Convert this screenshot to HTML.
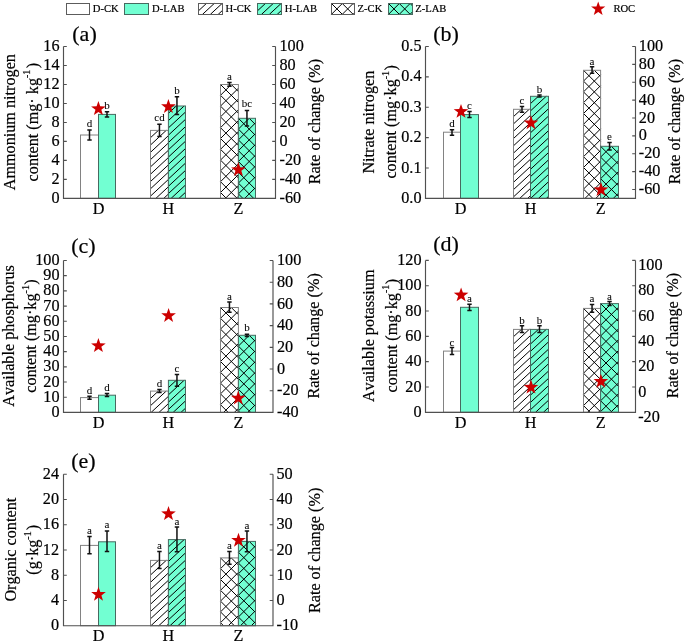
<!DOCTYPE html>
<html><head><meta charset="utf-8"><style>
html,body{margin:0;padding:0;background:#fff;}
svg{display:block;will-change:transform;}
text{font-family:"Liberation Serif", serif;fill:#000;font-kerning:none;stroke:#000;stroke-width:0.2px;}
</style></head><body>
<svg width="685" height="644" viewBox="0 0 685 644">
<rect width="685" height="644" fill="#fff"/>
<defs></defs>
<rect x="80.50" y="135.00" width="18.00" height="63.40" fill="#ffffff"/>
<rect x="80.50" y="135.00" width="18.00" height="63.40" fill="none" stroke="#828282" stroke-width="1"/>
<rect x="98.50" y="114.40" width="17.00" height="84.00" fill="#72FFD2"/>
<rect x="98.50" y="114.40" width="17.00" height="84.00" fill="none" stroke="#476a60" stroke-width="1"/>
<rect x="150.50" y="130.40" width="17.90" height="68.00" fill="#ffffff"/>
<path d="M150.50,137.70L158.35,130.40M150.50,145.00L166.20,130.40M150.50,152.30L168.40,135.65M150.50,159.60L168.40,142.95M150.50,166.90L168.40,150.25M150.50,174.20L168.40,157.55M150.50,181.50L168.40,164.85M150.50,188.80L168.40,172.15M150.50,196.10L168.40,179.45M155.88,198.40L168.40,186.75M163.73,198.40L168.40,194.05" stroke="#000000" stroke-width="1.0" fill="none"/>
<rect x="150.50" y="130.40" width="17.90" height="68.00" fill="none" stroke="#828282" stroke-width="1"/>
<rect x="168.40" y="106.00" width="17.10" height="92.40" fill="#72FFD2"/>
<path d="M168.40,113.30L176.25,106.00M168.40,120.60L184.10,106.00M168.40,127.90L185.50,112.00M168.40,135.20L185.50,119.30M168.40,142.50L185.50,126.60M168.40,149.80L185.50,133.90M168.40,157.10L185.50,141.20M168.40,164.40L185.50,148.50M168.40,171.70L185.50,155.80M168.40,179.00L185.50,163.10M168.40,186.30L185.50,170.40M168.40,193.60L185.50,177.70M171.09,198.40L185.50,185.00M178.94,198.40L185.50,192.30" stroke="#000000" stroke-width="1.0" fill="none"/>
<rect x="168.40" y="106.00" width="17.10" height="92.40" fill="none" stroke="#476a60" stroke-width="1"/>
<rect x="220.50" y="84.50" width="17.90" height="113.90" fill="#ffffff"/>
<path d="M231.30,84.50L238.40,91.60M220.50,84.50L238.40,102.40M220.50,95.30L238.40,113.20M220.50,106.10L238.40,124.00M220.50,116.90L238.40,134.80M220.50,127.70L238.40,145.60M220.50,138.50L238.40,156.40M220.50,149.30L238.40,167.20M220.50,160.10L238.40,178.00M220.50,170.90L238.40,188.80M220.50,181.70L237.20,198.40M220.50,192.50L226.40,198.40M220.50,95.30L231.30,84.50M220.50,106.10L238.40,88.20M220.50,116.90L238.40,99.00M220.50,127.70L238.40,109.80M220.50,138.50L238.40,120.60M220.50,149.30L238.40,131.40M220.50,160.10L238.40,142.20M220.50,170.90L238.40,153.00M220.50,181.70L238.40,163.80M220.50,192.50L238.40,174.60M225.40,198.40L238.40,185.40M236.20,198.40L238.40,196.20" stroke="#000000" stroke-width="1.0" fill="none"/>
<rect x="220.50" y="84.50" width="17.90" height="113.90" fill="none" stroke="#828282" stroke-width="1"/>
<rect x="238.40" y="118.30" width="17.10" height="80.10" fill="#72FFD2"/>
<path d="M249.20,118.30L255.50,124.60M238.40,118.30L255.50,135.40M238.40,129.10L255.50,146.20M238.40,139.90L255.50,157.00M238.40,150.70L255.50,167.80M238.40,161.50L255.50,178.60M238.40,172.30L255.50,189.40M238.40,183.10L253.70,198.40M238.40,193.90L242.90,198.40M238.40,129.10L249.20,118.30M238.40,139.90L255.50,122.80M238.40,150.70L255.50,133.60M238.40,161.50L255.50,144.40M238.40,172.30L255.50,155.20M238.40,183.10L255.50,166.00M238.40,193.90L255.50,176.80M244.70,198.40L255.50,187.60" stroke="#000000" stroke-width="1.0" fill="none"/>
<rect x="238.40" y="118.30" width="17.10" height="80.10" fill="none" stroke="#476a60" stroke-width="1"/>
<path d="M89.50,129.90 V140.00 M87.30,129.90 H91.70 M87.30,140.00 H91.70" stroke="#111" stroke-width="1.5" fill="none"/>
<text x="89.50" y="126.80" font-size="11" text-anchor="middle" style="stroke-width:0.05px">d</text>
<path d="M107.00,111.70 V117.10 M104.80,111.70 H109.20 M104.80,117.10 H109.20" stroke="#111" stroke-width="1.5" fill="none"/>
<text x="107.00" y="109.40" font-size="11" text-anchor="middle" style="stroke-width:0.05px">b</text>
<path d="M159.45,124.20 V136.60 M157.25,124.20 H161.65 M157.25,136.60 H161.65" stroke="#111" stroke-width="1.5" fill="none"/>
<text x="159.45" y="121.10" font-size="11" text-anchor="middle" style="stroke-width:0.05px">cd</text>
<path d="M176.95,96.80 V114.50 M174.75,96.80 H179.15 M174.75,114.50 H179.15" stroke="#111" stroke-width="1.5" fill="none"/>
<text x="176.95" y="94.30" font-size="11" text-anchor="middle" style="stroke-width:0.05px">b</text>
<path d="M229.45,82.40 V86.30 M227.25,82.40 H231.65 M227.25,86.30 H231.65" stroke="#111" stroke-width="1.5" fill="none"/>
<text x="229.45" y="80.40" font-size="11" text-anchor="middle" style="stroke-width:0.05px">a</text>
<path d="M246.95,110.40 V125.90 M244.75,110.40 H249.15 M244.75,125.90 H249.15" stroke="#111" stroke-width="1.5" fill="none"/>
<text x="246.95" y="106.90" font-size="11" text-anchor="middle" style="stroke-width:0.05px">bc</text>
<text x="59.50" y="203.00" font-size="16.2" text-anchor="end" >0</text>
<text x="59.50" y="184.01" font-size="16.2" text-anchor="end" >2</text>
<text x="59.50" y="165.03" font-size="16.2" text-anchor="end" >4</text>
<text x="59.50" y="146.04" font-size="16.2" text-anchor="end" >6</text>
<text x="59.50" y="127.05" font-size="16.2" text-anchor="end" >8</text>
<text x="59.50" y="108.06" font-size="16.2" text-anchor="end" >10</text>
<text x="59.50" y="89.07" font-size="16.2" text-anchor="end" >12</text>
<text x="59.50" y="70.09" font-size="16.2" text-anchor="end" >14</text>
<text x="59.50" y="51.10" font-size="16.2" text-anchor="end" >16</text>
<text x="279.50" y="203.00" font-size="16.2" text-anchor="start" >-60</text>
<text x="279.50" y="184.01" font-size="16.2" text-anchor="start" >-40</text>
<text x="279.50" y="165.03" font-size="16.2" text-anchor="start" >-20</text>
<text x="279.50" y="146.04" font-size="16.2" text-anchor="start" >0</text>
<text x="279.50" y="127.05" font-size="16.2" text-anchor="start" >20</text>
<text x="279.50" y="108.06" font-size="16.2" text-anchor="start" >40</text>
<text x="279.50" y="89.07" font-size="16.2" text-anchor="start" >60</text>
<text x="279.50" y="70.09" font-size="16.2" text-anchor="start" >80</text>
<text x="279.50" y="51.10" font-size="16.2" text-anchor="start" >100</text>
<path d="M63.5,46.5 V198.4 H275.5 V46.5 M63.5,198.40 h3.3 M63.5,179.41 h3.3 M63.5,160.43 h3.3 M63.5,141.44 h3.3 M63.5,122.45 h3.3 M63.5,103.46 h3.3 M63.5,84.47 h3.3 M63.5,65.49 h3.3 M63.5,46.50 h3.3 M275.5,198.40 h-3.3 M275.5,179.41 h-3.3 M275.5,160.43 h-3.3 M275.5,141.44 h-3.3 M275.5,122.45 h-3.3 M275.5,103.46 h-3.3 M275.5,84.47 h-3.3 M275.5,65.49 h-3.3 M275.5,46.50 h-3.3" stroke="#505050" stroke-width="1.15" fill="none"/>
<path d="M98.40,101.10 L100.21,106.31 L105.72,106.42 L101.33,109.75 L102.93,115.03 L98.40,111.88 L93.87,115.03 L95.47,109.75 L91.08,106.42 L96.59,106.31Z" fill="#CC0000"/>
<path d="M168.40,99.00 L170.21,104.21 L175.72,104.32 L171.33,107.65 L172.93,112.93 L168.40,109.78 L163.87,112.93 L165.47,107.65 L161.08,104.32 L166.59,104.21Z" fill="#CC0000"/>
<path d="M238.40,162.10 L240.21,167.31 L245.72,167.42 L241.33,170.75 L242.93,176.03 L238.40,172.88 L233.87,176.03 L235.47,170.75 L231.08,167.42 L236.59,167.31Z" fill="#CC0000"/>
<text x="98.50" y="214.30" font-size="16.2" text-anchor="middle" >D</text>
<text x="168.40" y="214.30" font-size="16.2" text-anchor="middle" >H</text>
<text x="238.40" y="214.30" font-size="16.2" text-anchor="middle" >Z</text>
<text x="72.30" y="40.80" font-size="22" text-anchor="start" >(a)</text>
<text transform="translate(14.90,190.30) rotate(-90)" font-size="16.2">Ammonium nitrogen</text>
<text transform="translate(37.90,181.40) rotate(-90)" font-size="16.2">content (mg· kg<tspan dy="-7.5" font-size="10">-1</tspan><tspan dy="7.5" dx="1.4">)</tspan></text>
<text transform="translate(320.00,184.20) rotate(-90)" font-size="16.2">Rate of change (%)</text>
<rect x="443.50" y="132.20" width="17.00" height="66.20" fill="#ffffff"/>
<rect x="443.50" y="132.20" width="17.00" height="66.20" fill="none" stroke="#828282" stroke-width="1"/>
<rect x="460.50" y="114.60" width="18.00" height="83.80" fill="#72FFD2"/>
<rect x="460.50" y="114.60" width="18.00" height="83.80" fill="none" stroke="#476a60" stroke-width="1"/>
<rect x="513.50" y="109.30" width="17.00" height="89.10" fill="#ffffff"/>
<path d="M513.50,116.60L521.35,109.30M513.50,123.90L529.20,109.30M513.50,131.20L530.50,115.39M513.50,138.50L530.50,122.69M513.50,145.80L530.50,129.99M513.50,153.10L530.50,137.29M513.50,160.40L530.50,144.59M513.50,167.70L530.50,151.89M513.50,175.00L530.50,159.19M513.50,182.30L530.50,166.49M513.50,189.60L530.50,173.79M513.50,196.90L530.50,181.09M519.74,198.40L530.50,188.39M527.59,198.40L530.50,195.69" stroke="#000000" stroke-width="1.0" fill="none"/>
<rect x="513.50" y="109.30" width="17.00" height="89.10" fill="none" stroke="#828282" stroke-width="1"/>
<rect x="530.50" y="96.30" width="18.00" height="102.10" fill="#72FFD2"/>
<path d="M530.50,103.60L538.35,96.30M530.50,110.90L546.20,96.30M530.50,118.20L548.50,101.46M530.50,125.50L548.50,108.76M530.50,132.80L548.50,116.06M530.50,140.10L548.50,123.36M530.50,147.40L548.50,130.66M530.50,154.70L548.50,137.96M530.50,162.00L548.50,145.26M530.50,169.30L548.50,152.56M530.50,176.60L548.50,159.86M530.50,183.90L548.50,167.16M530.50,191.20L548.50,174.46M530.61,198.40L548.50,181.76M538.46,198.40L548.50,189.06M546.31,198.40L548.50,196.36" stroke="#000000" stroke-width="1.0" fill="none"/>
<rect x="530.50" y="96.30" width="18.00" height="102.10" fill="none" stroke="#476a60" stroke-width="1"/>
<rect x="583.50" y="70.30" width="17.10" height="128.10" fill="#ffffff"/>
<path d="M594.30,70.30L600.60,76.60M583.50,70.30L600.60,87.40M583.50,81.10L600.60,98.20M583.50,91.90L600.60,109.00M583.50,102.70L600.60,119.80M583.50,113.50L600.60,130.60M583.50,124.30L600.60,141.40M583.50,135.10L600.60,152.20M583.50,145.90L600.60,163.00M583.50,156.70L600.60,173.80M583.50,167.50L600.60,184.60M583.50,178.30L600.60,195.40M583.50,189.10L592.80,198.40M583.50,81.10L594.30,70.30M583.50,91.90L600.60,74.80M583.50,102.70L600.60,85.60M583.50,113.50L600.60,96.40M583.50,124.30L600.60,107.20M583.50,135.10L600.60,118.00M583.50,145.90L600.60,128.80M583.50,156.70L600.60,139.60M583.50,167.50L600.60,150.40M583.50,178.30L600.60,161.20M583.50,189.10L600.60,172.00M585.00,198.40L600.60,182.80M595.80,198.40L600.60,193.60" stroke="#000000" stroke-width="1.0" fill="none"/>
<rect x="583.50" y="70.30" width="17.10" height="128.10" fill="none" stroke="#828282" stroke-width="1"/>
<rect x="600.60" y="146.30" width="17.90" height="52.10" fill="#72FFD2"/>
<path d="M611.40,146.30L618.50,153.40M600.60,146.30L618.50,164.20M600.60,157.10L618.50,175.00M600.60,167.90L618.50,185.80M600.60,178.70L618.50,196.60M600.60,189.50L609.50,198.40M600.60,157.10L611.40,146.30M600.60,167.90L618.50,150.00M600.60,178.70L618.50,160.80M600.60,189.50L618.50,171.60M602.50,198.40L618.50,182.40M613.30,198.40L618.50,193.20" stroke="#000000" stroke-width="1.0" fill="none"/>
<rect x="600.60" y="146.30" width="17.90" height="52.10" fill="none" stroke="#476a60" stroke-width="1"/>
<path d="M452.00,129.70 V135.30 M449.80,129.70 H454.20 M449.80,135.30 H454.20" stroke="#111" stroke-width="1.5" fill="none"/>
<text x="452.00" y="126.80" font-size="11" text-anchor="middle" style="stroke-width:0.05px">d</text>
<path d="M469.50,111.50 V117.50 M467.30,111.50 H471.70 M467.30,117.50 H471.70" stroke="#111" stroke-width="1.5" fill="none"/>
<text x="469.50" y="108.60" font-size="11" text-anchor="middle" style="stroke-width:0.05px">c</text>
<path d="M522.00,106.40 V112.20 M519.80,106.40 H524.20 M519.80,112.20 H524.20" stroke="#111" stroke-width="1.5" fill="none"/>
<text x="522.00" y="103.70" font-size="11" text-anchor="middle" style="stroke-width:0.05px">c</text>
<path d="M539.50,95.10 V97.10 M537.30,95.10 H541.70 M537.30,97.10 H541.70" stroke="#111" stroke-width="1.5" fill="none"/>
<text x="539.50" y="92.70" font-size="11" text-anchor="middle" style="stroke-width:0.05px">b</text>
<path d="M592.05,66.70 V73.30 M589.85,66.70 H594.25 M589.85,73.30 H594.25" stroke="#111" stroke-width="1.5" fill="none"/>
<text x="592.05" y="64.50" font-size="11" text-anchor="middle" style="stroke-width:0.05px">a</text>
<path d="M609.55,142.50 V150.10 M607.35,142.50 H611.75 M607.35,150.10 H611.75" stroke="#111" stroke-width="1.5" fill="none"/>
<text x="609.55" y="140.30" font-size="11" text-anchor="middle" style="stroke-width:0.05px">e</text>
<text x="421.50" y="203.00" font-size="16.2" text-anchor="end" >0.0</text>
<text x="421.50" y="172.62" font-size="16.2" text-anchor="end" >0.1</text>
<text x="421.50" y="142.24" font-size="16.2" text-anchor="end" >0.2</text>
<text x="421.50" y="111.86" font-size="16.2" text-anchor="end" >0.3</text>
<text x="421.50" y="81.48" font-size="16.2" text-anchor="end" >0.4</text>
<text x="421.50" y="51.10" font-size="16.2" text-anchor="end" >0.5</text>
<text x="638.80" y="194.06" font-size="16.2" text-anchor="start" >-60</text>
<text x="638.80" y="176.19" font-size="16.2" text-anchor="start" >-40</text>
<text x="638.80" y="158.32" font-size="16.2" text-anchor="start" >-20</text>
<text x="638.80" y="140.45" font-size="16.2" text-anchor="start" >0</text>
<text x="638.80" y="122.58" font-size="16.2" text-anchor="start" >20</text>
<text x="638.80" y="104.71" font-size="16.2" text-anchor="start" >40</text>
<text x="638.80" y="86.84" font-size="16.2" text-anchor="start" >60</text>
<text x="638.80" y="68.97" font-size="16.2" text-anchor="start" >80</text>
<text x="638.80" y="51.10" font-size="16.2" text-anchor="start" >100</text>
<path d="M425.5,46.5 V198.4 H635.5 V46.5 M425.5,198.40 h3.3 M425.5,168.02 h3.3 M425.5,137.64 h3.3 M425.5,107.26 h3.3 M425.5,76.88 h3.3 M425.5,46.50 h3.3 M635.5,189.46 h-3.3 M635.5,171.59 h-3.3 M635.5,153.72 h-3.3 M635.5,135.85 h-3.3 M635.5,117.98 h-3.3 M635.5,100.11 h-3.3 M635.5,82.24 h-3.3 M635.5,64.37 h-3.3 M635.5,46.50 h-3.3" stroke="#505050" stroke-width="1.15" fill="none"/>
<path d="M461.00,103.90 L462.81,109.11 L468.32,109.22 L463.93,112.55 L465.53,117.83 L461.00,114.68 L456.47,117.83 L458.07,112.55 L453.68,109.22 L459.19,109.11Z" fill="#CC0000"/>
<path d="M531.00,115.30 L532.81,120.51 L538.32,120.62 L533.93,123.95 L535.53,129.23 L531.00,126.08 L526.47,129.23 L528.07,123.95 L523.68,120.62 L529.19,120.51Z" fill="#CC0000"/>
<path d="M601.00,182.10 L602.81,187.31 L608.32,187.42 L603.93,190.75 L605.53,196.03 L601.00,192.88 L596.47,196.03 L598.07,190.75 L593.68,187.42 L599.19,187.31Z" fill="#CC0000"/>
<text x="460.50" y="214.30" font-size="16.2" text-anchor="middle" >D</text>
<text x="530.50" y="214.30" font-size="16.2" text-anchor="middle" >H</text>
<text x="600.60" y="214.30" font-size="16.2" text-anchor="middle" >Z</text>
<text x="433.20" y="41.00" font-size="22" text-anchor="start" >(b)</text>
<text transform="translate(373.60,173.60) rotate(-90)" font-size="16.2">Nitrate nitrogen</text>
<text transform="translate(396.40,178.60) rotate(-90)" font-size="16.2">content (mg·kg<tspan dy="-7.5" font-size="10">-1</tspan><tspan dy="7.5" dx="0.4">)</tspan></text>
<text transform="translate(679.70,184.20) rotate(-90)" font-size="16.2">Rate of change (%)</text>
<rect x="80.50" y="397.60" width="18.00" height="14.80" fill="#ffffff"/>
<rect x="80.50" y="397.60" width="18.00" height="14.80" fill="none" stroke="#828282" stroke-width="1"/>
<rect x="98.50" y="395.20" width="17.00" height="17.20" fill="#72FFD2"/>
<rect x="98.50" y="395.20" width="17.00" height="17.20" fill="none" stroke="#476a60" stroke-width="1"/>
<rect x="150.50" y="391.10" width="17.90" height="21.30" fill="#ffffff"/>
<path d="M150.50,398.40L158.35,391.10M150.50,405.70L166.20,391.10M151.15,412.40L168.40,396.35M159.00,412.40L168.40,403.65M166.85,412.40L168.40,410.95" stroke="#000000" stroke-width="1.0" fill="none"/>
<rect x="150.50" y="391.10" width="17.90" height="21.30" fill="none" stroke="#828282" stroke-width="1"/>
<rect x="168.40" y="380.30" width="17.10" height="32.10" fill="#72FFD2"/>
<path d="M168.40,387.60L176.25,380.30M168.40,394.90L184.10,380.30M168.40,402.20L185.50,386.30M168.40,409.50L185.50,393.60M173.13,412.40L185.50,400.90M180.98,412.40L185.50,408.20" stroke="#000000" stroke-width="1.0" fill="none"/>
<rect x="168.40" y="380.30" width="17.10" height="32.10" fill="none" stroke="#476a60" stroke-width="1"/>
<rect x="220.50" y="307.50" width="17.90" height="104.90" fill="#ffffff"/>
<path d="M231.30,307.50L238.40,314.60M220.50,307.50L238.40,325.40M220.50,318.30L238.40,336.20M220.50,329.10L238.40,347.00M220.50,339.90L238.40,357.80M220.50,350.70L238.40,368.60M220.50,361.50L238.40,379.40M220.50,372.30L238.40,390.20M220.50,383.10L238.40,401.00M220.50,393.90L238.40,411.80M220.50,404.70L228.20,412.40M220.50,318.30L231.30,307.50M220.50,329.10L238.40,311.20M220.50,339.90L238.40,322.00M220.50,350.70L238.40,332.80M220.50,361.50L238.40,343.60M220.50,372.30L238.40,354.40M220.50,383.10L238.40,365.20M220.50,393.90L238.40,376.00M220.50,404.70L238.40,386.80M223.60,412.40L238.40,397.60M234.40,412.40L238.40,408.40" stroke="#000000" stroke-width="1.0" fill="none"/>
<rect x="220.50" y="307.50" width="17.90" height="104.90" fill="none" stroke="#828282" stroke-width="1"/>
<rect x="238.40" y="335.30" width="17.10" height="77.10" fill="#72FFD2"/>
<path d="M249.20,335.30L255.50,341.60M238.40,335.30L255.50,352.40M238.40,346.10L255.50,363.20M238.40,356.90L255.50,374.00M238.40,367.70L255.50,384.80M238.40,378.50L255.50,395.60M238.40,389.30L255.50,406.40M238.40,400.10L250.70,412.40M238.40,410.90L239.90,412.40M238.40,346.10L249.20,335.30M238.40,356.90L255.50,339.80M238.40,367.70L255.50,350.60M238.40,378.50L255.50,361.40M238.40,389.30L255.50,372.20M238.40,400.10L255.50,383.00M238.40,410.90L255.50,393.80M247.70,412.40L255.50,404.60" stroke="#000000" stroke-width="1.0" fill="none"/>
<rect x="238.40" y="335.30" width="17.10" height="77.10" fill="none" stroke="#476a60" stroke-width="1"/>
<path d="M89.50,396.30 V399.20 M87.30,396.30 H91.70 M87.30,399.20 H91.70" stroke="#111" stroke-width="1.5" fill="none"/>
<text x="89.50" y="393.80" font-size="11" text-anchor="middle" style="stroke-width:0.05px">d</text>
<path d="M107.00,393.60 V396.60 M104.80,393.60 H109.20 M104.80,396.60 H109.20" stroke="#111" stroke-width="1.5" fill="none"/>
<text x="107.00" y="391.20" font-size="11" text-anchor="middle" style="stroke-width:0.05px">d</text>
<path d="M159.45,389.60 V392.60 M157.25,389.60 H161.65 M157.25,392.60 H161.65" stroke="#111" stroke-width="1.5" fill="none"/>
<text x="159.45" y="387.20" font-size="11" text-anchor="middle" style="stroke-width:0.05px">d</text>
<path d="M176.95,374.60 V386.20 M174.75,374.60 H179.15 M174.75,386.20 H179.15" stroke="#111" stroke-width="1.5" fill="none"/>
<text x="176.95" y="372.40" font-size="11" text-anchor="middle" style="stroke-width:0.05px">c</text>
<path d="M229.45,302.10 V312.30 M227.25,302.10 H231.65 M227.25,312.30 H231.65" stroke="#111" stroke-width="1.5" fill="none"/>
<text x="229.45" y="299.70" font-size="11" text-anchor="middle" style="stroke-width:0.05px">a</text>
<path d="M246.95,334.20 V336.60 M244.75,334.20 H249.15 M244.75,336.60 H249.15" stroke="#111" stroke-width="1.5" fill="none"/>
<text x="246.95" y="331.40" font-size="11" text-anchor="middle" style="stroke-width:0.05px">b</text>
<text x="59.50" y="417.00" font-size="16.2" text-anchor="end" >0</text>
<text x="59.50" y="401.81" font-size="16.2" text-anchor="end" >10</text>
<text x="59.50" y="386.62" font-size="16.2" text-anchor="end" >20</text>
<text x="59.50" y="371.43" font-size="16.2" text-anchor="end" >30</text>
<text x="59.50" y="356.24" font-size="16.2" text-anchor="end" >40</text>
<text x="59.50" y="341.05" font-size="16.2" text-anchor="end" >50</text>
<text x="59.50" y="325.86" font-size="16.2" text-anchor="end" >60</text>
<text x="59.50" y="310.67" font-size="16.2" text-anchor="end" >70</text>
<text x="59.50" y="295.48" font-size="16.2" text-anchor="end" >80</text>
<text x="59.50" y="280.29" font-size="16.2" text-anchor="end" >90</text>
<text x="59.50" y="265.10" font-size="16.2" text-anchor="end" >100</text>
<text x="277.00" y="417.00" font-size="16.2" text-anchor="start" >-40</text>
<text x="277.00" y="395.30" font-size="16.2" text-anchor="start" >-20</text>
<text x="277.00" y="373.60" font-size="16.2" text-anchor="start" >0</text>
<text x="277.00" y="351.90" font-size="16.2" text-anchor="start" >20</text>
<text x="277.00" y="330.20" font-size="16.2" text-anchor="start" >40</text>
<text x="277.00" y="308.50" font-size="16.2" text-anchor="start" >60</text>
<text x="277.00" y="286.80" font-size="16.2" text-anchor="start" >80</text>
<text x="277.00" y="265.10" font-size="16.2" text-anchor="start" >100</text>
<path d="M63.5,260.5 V412.4 H273.0 V260.5 M63.5,412.40 h3.3 M63.5,397.21 h3.3 M63.5,382.02 h3.3 M63.5,366.83 h3.3 M63.5,351.64 h3.3 M63.5,336.45 h3.3 M63.5,321.26 h3.3 M63.5,306.07 h3.3 M63.5,290.88 h3.3 M63.5,275.69 h3.3 M63.5,260.50 h3.3 M273.0,412.40 h-3.3 M273.0,390.70 h-3.3 M273.0,369.00 h-3.3 M273.0,347.30 h-3.3 M273.0,325.60 h-3.3 M273.0,303.90 h-3.3 M273.0,282.20 h-3.3 M273.0,260.50 h-3.3" stroke="#505050" stroke-width="1.15" fill="none"/>
<path d="M98.40,338.10 L100.21,343.31 L105.72,343.42 L101.33,346.75 L102.93,352.03 L98.40,348.88 L93.87,352.03 L95.47,346.75 L91.08,343.42 L96.59,343.31Z" fill="#CC0000"/>
<path d="M168.60,308.00 L170.41,313.21 L175.92,313.32 L171.53,316.65 L173.13,321.93 L168.60,318.78 L164.07,321.93 L165.67,316.65 L161.28,313.32 L166.79,313.21Z" fill="#CC0000"/>
<path d="M238.30,390.50 L240.11,395.71 L245.62,395.82 L241.23,399.15 L242.83,404.43 L238.30,401.28 L233.77,404.43 L235.37,399.15 L230.98,395.82 L236.49,395.71Z" fill="#CC0000"/>
<text x="98.50" y="428.10" font-size="16.2" text-anchor="middle" >D</text>
<text x="168.40" y="428.10" font-size="16.2" text-anchor="middle" >H</text>
<text x="238.40" y="428.10" font-size="16.2" text-anchor="middle" >Z</text>
<text x="71.20" y="253.10" font-size="22" text-anchor="start" >(c)</text>
<text transform="translate(13.90,406.80) rotate(-90)" font-size="16.2">Available phosphorus</text>
<text transform="translate(36.10,392.80) rotate(-90)" font-size="16.2">content (mg·kg<tspan dy="-7.5" font-size="10">-1</tspan><tspan dy="7.5" dx="0.4">)</tspan></text>
<text transform="translate(319.40,398.60) rotate(-90)" font-size="16.2">Rate of change (%)</text>
<rect x="443.50" y="351.10" width="17.00" height="61.20" fill="#ffffff"/>
<rect x="443.50" y="351.10" width="17.00" height="61.20" fill="none" stroke="#828282" stroke-width="1"/>
<rect x="460.50" y="307.30" width="18.00" height="105.00" fill="#72FFD2"/>
<rect x="460.50" y="307.30" width="18.00" height="105.00" fill="none" stroke="#476a60" stroke-width="1"/>
<rect x="513.50" y="329.40" width="17.00" height="82.90" fill="#ffffff"/>
<path d="M513.50,336.70L521.35,329.40M513.50,344.00L529.20,329.40M513.50,351.30L530.50,335.49M513.50,358.60L530.50,342.79M513.50,365.90L530.50,350.09M513.50,373.20L530.50,357.39M513.50,380.50L530.50,364.69M513.50,387.80L530.50,371.99M513.50,395.10L530.50,379.29M513.50,402.40L530.50,386.59M513.50,409.70L530.50,393.89M518.55,412.30L530.50,401.19M526.40,412.30L530.50,408.49" stroke="#000000" stroke-width="1.0" fill="none"/>
<rect x="513.50" y="329.40" width="17.00" height="82.90" fill="none" stroke="#828282" stroke-width="1"/>
<rect x="530.50" y="329.40" width="18.00" height="82.90" fill="#72FFD2"/>
<path d="M530.50,336.70L538.35,329.40M530.50,344.00L546.20,329.40M530.50,351.30L548.50,334.56M530.50,358.60L548.50,341.86M530.50,365.90L548.50,349.16M530.50,373.20L548.50,356.46M530.50,380.50L548.50,363.76M530.50,387.80L548.50,371.06M530.50,395.10L548.50,378.36M530.50,402.40L548.50,385.66M530.50,409.70L548.50,392.96M535.55,412.30L548.50,400.26M543.40,412.30L548.50,407.56" stroke="#000000" stroke-width="1.0" fill="none"/>
<rect x="530.50" y="329.40" width="18.00" height="82.90" fill="none" stroke="#476a60" stroke-width="1"/>
<rect x="583.50" y="308.40" width="17.10" height="103.90" fill="#ffffff"/>
<path d="M594.30,308.40L600.60,314.70M583.50,308.40L600.60,325.50M583.50,319.20L600.60,336.30M583.50,330.00L600.60,347.10M583.50,340.80L600.60,357.90M583.50,351.60L600.60,368.70M583.50,362.40L600.60,379.50M583.50,373.20L600.60,390.30M583.50,384.00L600.60,401.10M583.50,394.80L600.60,411.90M583.50,405.60L590.20,412.30M583.50,319.20L594.30,308.40M583.50,330.00L600.60,312.90M583.50,340.80L600.60,323.70M583.50,351.60L600.60,334.50M583.50,362.40L600.60,345.30M583.50,373.20L600.60,356.10M583.50,384.00L600.60,366.90M583.50,394.80L600.60,377.70M583.50,405.60L600.60,388.50M587.60,412.30L600.60,399.30M598.40,412.30L600.60,410.10" stroke="#000000" stroke-width="1.0" fill="none"/>
<rect x="583.50" y="308.40" width="17.10" height="103.90" fill="none" stroke="#828282" stroke-width="1"/>
<rect x="600.60" y="303.60" width="17.90" height="108.70" fill="#72FFD2"/>
<path d="M611.40,303.60L618.50,310.70M600.60,303.60L618.50,321.50M600.60,314.40L618.50,332.30M600.60,325.20L618.50,343.10M600.60,336.00L618.50,353.90M600.60,346.80L618.50,364.70M600.60,357.60L618.50,375.50M600.60,368.40L618.50,386.30M600.60,379.20L618.50,397.10M600.60,390.00L618.50,407.90M600.60,400.80L612.10,412.30M600.60,411.60L601.30,412.30M600.60,314.40L611.40,303.60M600.60,325.20L618.50,307.30M600.60,336.00L618.50,318.10M600.60,346.80L618.50,328.90M600.60,357.60L618.50,339.70M600.60,368.40L618.50,350.50M600.60,379.20L618.50,361.30M600.60,390.00L618.50,372.10M600.60,400.80L618.50,382.90M600.60,411.60L618.50,393.70M610.70,412.30L618.50,404.50" stroke="#000000" stroke-width="1.0" fill="none"/>
<rect x="600.60" y="303.60" width="17.90" height="108.70" fill="none" stroke="#476a60" stroke-width="1"/>
<path d="M452.00,347.60 V354.40 M449.80,347.60 H454.20 M449.80,354.40 H454.20" stroke="#111" stroke-width="1.5" fill="none"/>
<text x="452.00" y="345.50" font-size="11" text-anchor="middle" style="stroke-width:0.05px">c</text>
<path d="M469.50,304.20 V310.40 M467.30,304.20 H471.70 M467.30,310.40 H471.70" stroke="#111" stroke-width="1.5" fill="none"/>
<text x="469.50" y="301.70" font-size="11" text-anchor="middle" style="stroke-width:0.05px">a</text>
<path d="M522.00,325.80 V332.50 M519.80,325.80 H524.20 M519.80,332.50 H524.20" stroke="#111" stroke-width="1.5" fill="none"/>
<text x="522.00" y="323.80" font-size="11" text-anchor="middle" style="stroke-width:0.05px">b</text>
<path d="M539.50,325.80 V332.50 M537.30,325.80 H541.70 M537.30,332.50 H541.70" stroke="#111" stroke-width="1.5" fill="none"/>
<text x="539.50" y="323.80" font-size="11" text-anchor="middle" style="stroke-width:0.05px">b</text>
<path d="M592.05,304.60 V312.30 M589.85,304.60 H594.25 M589.85,312.30 H594.25" stroke="#111" stroke-width="1.5" fill="none"/>
<text x="592.05" y="302.20" font-size="11" text-anchor="middle" style="stroke-width:0.05px">a</text>
<path d="M609.55,301.40 V305.50 M607.35,301.40 H611.75 M607.35,305.50 H611.75" stroke="#111" stroke-width="1.5" fill="none"/>
<text x="609.55" y="299.70" font-size="11" text-anchor="middle" style="stroke-width:0.05px">a</text>
<text x="421.50" y="416.90" font-size="16.2" text-anchor="end" >0</text>
<text x="421.50" y="391.58" font-size="16.2" text-anchor="end" >20</text>
<text x="421.50" y="366.27" font-size="16.2" text-anchor="end" >40</text>
<text x="421.50" y="340.95" font-size="16.2" text-anchor="end" >60</text>
<text x="421.50" y="315.63" font-size="16.2" text-anchor="end" >80</text>
<text x="421.50" y="290.32" font-size="16.2" text-anchor="end" >100</text>
<text x="421.50" y="265.00" font-size="16.2" text-anchor="end" >120</text>
<text x="638.20" y="421.90" font-size="16.2" text-anchor="start" >-20</text>
<text x="638.20" y="396.58" font-size="16.2" text-anchor="start" >0</text>
<text x="638.20" y="371.27" font-size="16.2" text-anchor="start" >20</text>
<text x="638.20" y="345.95" font-size="16.2" text-anchor="start" >40</text>
<text x="638.20" y="320.63" font-size="16.2" text-anchor="start" >60</text>
<text x="638.20" y="295.32" font-size="16.2" text-anchor="start" >80</text>
<text x="638.20" y="270.00" font-size="16.2" text-anchor="start" >100</text>
<path d="M425.5,260.4 V412.3 H635.5 V260.4 M425.5,412.30 h3.3 M425.5,386.98 h3.3 M425.5,361.67 h3.3 M425.5,336.35 h3.3 M425.5,311.03 h3.3 M425.5,285.72 h3.3 M425.5,260.40 h3.3 M635.5,412.30 h-3.3 M635.5,386.98 h-3.3 M635.5,361.67 h-3.3 M635.5,336.35 h-3.3 M635.5,311.03 h-3.3 M635.5,285.72 h-3.3 M635.5,260.40 h-3.3" stroke="#505050" stroke-width="1.15" fill="none"/>
<path d="M461.10,287.40 L462.91,292.61 L468.42,292.72 L464.03,296.05 L465.63,301.33 L461.10,298.18 L456.57,301.33 L458.17,296.05 L453.78,292.72 L459.29,292.61Z" fill="#CC0000"/>
<path d="M531.00,379.60 L532.81,384.81 L538.32,384.92 L533.93,388.25 L535.53,393.53 L531.00,390.38 L526.47,393.53 L528.07,388.25 L523.68,384.92 L529.19,384.81Z" fill="#CC0000"/>
<path d="M600.90,373.80 L602.71,379.01 L608.22,379.12 L603.83,382.45 L605.43,387.73 L600.90,384.58 L596.37,387.73 L597.97,382.45 L593.58,379.12 L599.09,379.01Z" fill="#CC0000"/>
<text x="460.50" y="428.10" font-size="16.2" text-anchor="middle" >D</text>
<text x="530.50" y="428.10" font-size="16.2" text-anchor="middle" >H</text>
<text x="600.60" y="428.10" font-size="16.2" text-anchor="middle" >Z</text>
<text x="433.20" y="250.90" font-size="22" text-anchor="start" >(d)</text>
<text transform="translate(373.90,402.10) rotate(-90)" font-size="16.2">Available potassium</text>
<text transform="translate(396.80,392.40) rotate(-90)" font-size="16.2">content (mg·kg<tspan dy="-7.5" font-size="10">-1</tspan><tspan dy="7.5" dx="0.4">)</tspan></text>
<text transform="translate(677.80,398.30) rotate(-90)" font-size="16.2">Rate of change (%)</text>
<rect x="80.50" y="545.40" width="18.00" height="80.30" fill="#ffffff"/>
<rect x="80.50" y="545.40" width="18.00" height="80.30" fill="none" stroke="#828282" stroke-width="1"/>
<rect x="98.50" y="541.80" width="17.00" height="83.90" fill="#72FFD2"/>
<rect x="98.50" y="541.80" width="17.00" height="83.90" fill="none" stroke="#476a60" stroke-width="1"/>
<rect x="150.50" y="560.40" width="17.90" height="65.30" fill="#ffffff"/>
<path d="M150.50,567.70L158.35,560.40M150.50,575.00L166.20,560.40M150.50,582.30L168.40,565.65M150.50,589.60L168.40,572.95M150.50,596.90L168.40,580.25M150.50,604.20L168.40,587.55M150.50,611.50L168.40,594.85M150.50,618.80L168.40,602.15M150.93,625.70L168.40,609.45M158.78,625.70L168.40,616.75M166.63,625.70L168.40,624.05" stroke="#000000" stroke-width="1.0" fill="none"/>
<rect x="150.50" y="560.40" width="17.90" height="65.30" fill="none" stroke="#828282" stroke-width="1"/>
<rect x="168.40" y="539.60" width="17.10" height="86.10" fill="#72FFD2"/>
<path d="M168.40,546.90L176.25,539.60M168.40,554.20L184.10,539.60M168.40,561.50L185.50,545.60M168.40,568.80L185.50,552.90M168.40,576.10L185.50,560.20M168.40,583.40L185.50,567.50M168.40,590.70L185.50,574.80M168.40,598.00L185.50,582.10M168.40,605.30L185.50,589.40M168.40,612.60L185.50,596.70M168.40,619.90L185.50,604.00M170.01,625.70L185.50,611.30M177.86,625.70L185.50,618.60" stroke="#000000" stroke-width="1.0" fill="none"/>
<rect x="168.40" y="539.60" width="17.10" height="86.10" fill="none" stroke="#476a60" stroke-width="1"/>
<rect x="220.50" y="557.90" width="17.90" height="67.80" fill="#ffffff"/>
<path d="M231.30,557.90L238.40,565.00M220.50,557.90L238.40,575.80M220.50,568.70L238.40,586.60M220.50,579.50L238.40,597.40M220.50,590.30L238.40,608.20M220.50,601.10L238.40,619.00M220.50,611.90L234.30,625.70M220.50,622.70L223.50,625.70M220.50,568.70L231.30,557.90M220.50,579.50L238.40,561.60M220.50,590.30L238.40,572.40M220.50,601.10L238.40,583.20M220.50,611.90L238.40,594.00M220.50,622.70L238.40,604.80M228.30,625.70L238.40,615.60" stroke="#000000" stroke-width="1.0" fill="none"/>
<rect x="220.50" y="557.90" width="17.90" height="67.80" fill="none" stroke="#828282" stroke-width="1"/>
<rect x="238.40" y="541.40" width="17.10" height="84.30" fill="#72FFD2"/>
<path d="M249.20,541.40L255.50,547.70M238.40,541.40L255.50,558.50M238.40,552.20L255.50,569.30M238.40,563.00L255.50,580.10M238.40,573.80L255.50,590.90M238.40,584.60L255.50,601.70M238.40,595.40L255.50,612.50M238.40,606.20L255.50,623.30M238.40,617.00L247.10,625.70M238.40,552.20L249.20,541.40M238.40,563.00L255.50,545.90M238.40,573.80L255.50,556.70M238.40,584.60L255.50,567.50M238.40,595.40L255.50,578.30M238.40,606.20L255.50,589.10M238.40,617.00L255.50,599.90M240.50,625.70L255.50,610.70M251.30,625.70L255.50,621.50" stroke="#000000" stroke-width="1.0" fill="none"/>
<rect x="238.40" y="541.40" width="17.10" height="84.30" fill="none" stroke="#476a60" stroke-width="1"/>
<path d="M89.50,536.60 V553.80 M87.30,536.60 H91.70 M87.30,553.80 H91.70" stroke="#111" stroke-width="1.5" fill="none"/>
<text x="89.50" y="534.00" font-size="11" text-anchor="middle" style="stroke-width:0.05px">a</text>
<path d="M107.00,531.10 V551.60 M104.80,531.10 H109.20 M104.80,551.60 H109.20" stroke="#111" stroke-width="1.5" fill="none"/>
<text x="107.00" y="528.20" font-size="11" text-anchor="middle" style="stroke-width:0.05px">a</text>
<path d="M159.45,551.50 V568.60 M157.25,551.50 H161.65 M157.25,568.60 H161.65" stroke="#111" stroke-width="1.5" fill="none"/>
<text x="159.45" y="549.10" font-size="11" text-anchor="middle" style="stroke-width:0.05px">a</text>
<path d="M176.95,527.10 V551.70 M174.75,527.10 H179.15 M174.75,551.70 H179.15" stroke="#111" stroke-width="1.5" fill="none"/>
<text x="176.95" y="524.70" font-size="11" text-anchor="middle" style="stroke-width:0.05px">a</text>
<path d="M229.45,551.50 V564.20 M227.25,551.50 H231.65 M227.25,564.20 H231.65" stroke="#111" stroke-width="1.5" fill="none"/>
<text x="229.45" y="548.90" font-size="11" text-anchor="middle" style="stroke-width:0.05px">a</text>
<path d="M246.95,530.90 V551.70 M244.75,530.90 H249.15 M244.75,551.70 H249.15" stroke="#111" stroke-width="1.5" fill="none"/>
<text x="246.95" y="528.60" font-size="11" text-anchor="middle" style="stroke-width:0.05px">a</text>
<text x="59.00" y="630.30" font-size="16.2" text-anchor="end" >0</text>
<text x="59.00" y="605.05" font-size="16.2" text-anchor="end" >4</text>
<text x="59.00" y="579.80" font-size="16.2" text-anchor="end" >8</text>
<text x="59.00" y="554.55" font-size="16.2" text-anchor="end" >12</text>
<text x="59.00" y="529.30" font-size="16.2" text-anchor="end" >16</text>
<text x="59.00" y="504.05" font-size="16.2" text-anchor="end" >20</text>
<text x="59.00" y="478.80" font-size="16.2" text-anchor="end" >24</text>
<text x="276.50" y="630.30" font-size="16.2" text-anchor="start" >-10</text>
<text x="276.50" y="605.05" font-size="16.2" text-anchor="start" >0</text>
<text x="276.50" y="579.80" font-size="16.2" text-anchor="start" >10</text>
<text x="276.50" y="554.55" font-size="16.2" text-anchor="start" >20</text>
<text x="276.50" y="529.30" font-size="16.2" text-anchor="start" >30</text>
<text x="276.50" y="504.05" font-size="16.2" text-anchor="start" >40</text>
<text x="276.50" y="478.80" font-size="16.2" text-anchor="start" >50</text>
<path d="M63.5,474.2 V625.7 H273.0 V474.2 M63.5,625.70 h3.3 M63.5,600.45 h3.3 M63.5,575.20 h3.3 M63.5,549.95 h3.3 M63.5,524.70 h3.3 M63.5,499.45 h3.3 M63.5,474.20 h3.3 M273.0,625.70 h-3.3 M273.0,600.45 h-3.3 M273.0,575.20 h-3.3 M273.0,549.95 h-3.3 M273.0,524.70 h-3.3 M273.0,499.45 h-3.3 M273.0,474.20 h-3.3" stroke="#505050" stroke-width="1.15" fill="none"/>
<path d="M98.50,586.80 L100.31,592.01 L105.82,592.12 L101.43,595.45 L103.03,600.73 L98.50,597.58 L93.97,600.73 L95.57,595.45 L91.18,592.12 L96.69,592.01Z" fill="#CC0000"/>
<path d="M168.50,506.10 L170.31,511.31 L175.82,511.42 L171.43,514.75 L173.03,520.03 L168.50,516.88 L163.97,520.03 L165.57,514.75 L161.18,511.42 L166.69,511.31Z" fill="#CC0000"/>
<path d="M238.50,532.70 L240.31,537.91 L245.82,538.02 L241.43,541.35 L243.03,546.63 L238.50,543.48 L233.97,546.63 L235.57,541.35 L231.18,538.02 L236.69,537.91Z" fill="#CC0000"/>
<text x="98.50" y="641.40" font-size="16.2" text-anchor="middle" >D</text>
<text x="168.40" y="641.40" font-size="16.2" text-anchor="middle" >H</text>
<text x="238.40" y="641.40" font-size="16.2" text-anchor="middle" >Z</text>
<text x="71.20" y="468.10" font-size="22" text-anchor="start" >(e)</text>
<text transform="translate(15.60,601.60) rotate(-90)" font-size="16.2">Organic content</text>
<text transform="translate(38.00,574.70) rotate(-90)" font-size="16.2">(g·kg<tspan dy="-7.5" font-size="10">-1</tspan><tspan dy="7.5" dx="1.0">)</tspan></text>
<text transform="translate(319.80,613.10) rotate(-90)" font-size="16.2">Rate of change (%)</text>
<rect x="66.5" y="3.5" width="23.00" height="11.00" fill="#ffffff"/>
<rect x="66.5" y="3.5" width="23.00" height="11.00" fill="none" stroke="#5c5c5c" stroke-width="1"/>
<text x="92.80" y="12.30" font-size="10.6" text-anchor="start" >D-CK</text>
<rect x="124.5" y="3.5" width="24.00" height="11.00" fill="#72FFD2"/>
<rect x="124.5" y="3.5" width="24.00" height="11.00" fill="none" stroke="#476a60" stroke-width="1"/>
<text x="152.10" y="12.30" font-size="10.6" text-anchor="start" >D-LAB</text>
<rect x="198.5" y="3.5" width="24.00" height="11.00" fill="#ffffff"/>
<path d="M198.50,10.80L206.35,3.50M202.37,14.50L214.20,3.50M210.22,14.50L222.05,3.50M218.07,14.50L222.50,10.38" stroke="#000000" stroke-width="1.0" fill="none"/>
<rect x="198.5" y="3.5" width="24.00" height="11.00" fill="none" stroke="#5c5c5c" stroke-width="1"/>
<text x="225.50" y="12.30" font-size="10.6" text-anchor="start" >H-CK</text>
<rect x="257.5" y="3.5" width="24.00" height="11.00" fill="#72FFD2"/>
<path d="M257.50,10.80L265.35,3.50M261.37,14.50L273.20,3.50M269.22,14.50L281.05,3.50M277.07,14.50L281.50,10.38" stroke="#000000" stroke-width="1.0" fill="none"/>
<rect x="257.5" y="3.5" width="24.00" height="11.00" fill="none" stroke="#476a60" stroke-width="1"/>
<text x="284.80" y="12.30" font-size="10.6" text-anchor="start" >H-LAB</text>
<rect x="331.5" y="3.5" width="23.00" height="11.00" fill="#ffffff"/>
<path d="M353.10,3.50L354.50,4.90M342.30,3.50L353.30,14.50M331.50,3.50L342.50,14.50M331.50,14.30L331.70,14.50M331.50,14.30L342.30,3.50M342.10,14.50L353.10,3.50M352.90,14.50L354.50,12.90" stroke="#000000" stroke-width="1.0" fill="none"/>
<rect x="331.5" y="3.5" width="23.00" height="11.00" fill="none" stroke="#5c5c5c" stroke-width="1"/>
<text x="357.60" y="12.30" font-size="10.6" text-anchor="start" >Z-CK</text>
<rect x="388.5" y="3.5" width="24.00" height="11.00" fill="#72FFD2"/>
<path d="M410.10,3.50L412.50,5.90M399.30,3.50L410.30,14.50M388.50,3.50L399.50,14.50M388.50,14.30L388.70,14.50M388.50,14.30L399.30,3.50M399.10,14.50L410.10,3.50M409.90,14.50L412.50,11.90" stroke="#000000" stroke-width="1.0" fill="none"/>
<rect x="388.5" y="3.5" width="24.00" height="11.00" fill="none" stroke="#476a60" stroke-width="1"/>
<text x="415.20" y="12.30" font-size="10.6" text-anchor="start" >Z-LAB</text>
<path d="M598.20,1.40 L599.96,6.47 L605.33,6.58 L601.05,9.83 L602.61,14.97 L598.20,11.90 L593.79,14.97 L595.35,9.83 L591.07,6.58 L596.44,6.47Z" fill="#CC0000"/>
<text x="613.40" y="12.30" font-size="10.6" text-anchor="start" >ROC</text>
</svg></body></html>
